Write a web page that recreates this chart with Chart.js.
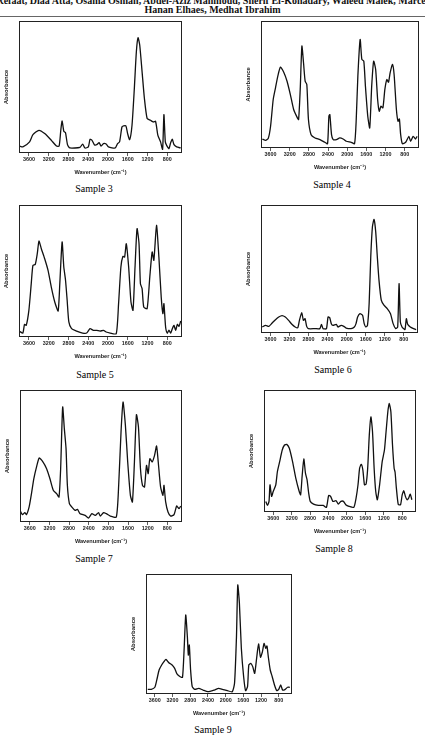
<!DOCTYPE html>
<html><head><meta charset="utf-8">
<script src="https://cdn.jsdelivr.net/npm/chart.js@4.4.1/dist/chart.umd.min.js"></script>
<style>
body{margin:0;width:425px;height:735px;overflow:hidden;background:#fff;position:relative;}
.hdr{position:absolute;left:-150px;width:725px;text-align:center;font:bold 10px "Liberation Serif","Times New Roman",serif;white-space:nowrap;color:#111;line-height:11px;}
.rule{position:absolute;left:0;width:425px;top:16px;height:0;border-top:1px solid #666;}
canvas{position:absolute;}
.lbl{position:absolute;font:10px "Liberation Serif","Times New Roman",serif;color:#000;transform:translate(-50%,-50%);white-space:nowrap;}
</style></head><body>
<div class="hdr" style="top:-5px">Refaat, Diaa Atta, Osama Osman, Abdel-Aziz Mahmoud, Sherif El-Kohadary, Waleed Malek, Marcel</div>
<div class="hdr" style="top:4px">Hanan Elhaes, Medhat Ibrahim</div>
<div class="rule"></div>
<script>
const xTicks = [3600, 3200, 2800, 2400, 2000, 1600, 1200, 800];
const sampleNames = ['Sample 3','Sample 4','Sample 5','Sample 6','Sample 7','Sample 8','Sample 9'];

const s3_wn = [3790,3722,3586,3518,3396,3280,3144,3042,2988,2954,2927,2893,2859,2818,2770,2566,2512,2464,2396,2362,2322,2274,2226,2179,2138,2090,2036,1988,1852,1805,1764,1716,1682,1635,1601,1560,1512,1465,1424,1390,1356,1308,1261,1206,1138,1084,1036,988,934,893,866,838,811,764,730,696,662,608,526];
const s3_abs = [.053,.046,.084,.139,.172,.147,.096,.053,.053,.172,.243,.165,.154,.063,.038,.043,.068,.038,.046,.104,.096,.063,.063,.078,.053,.071,.068,.046,.038,.071,.084,.197,.205,.205,.147,.101,.210,.489,.767,.873,.818,.615,.413,.261,.248,.235,.240,.134,.084,.028,.291,.084,.058,.033,.078,.104,.063,.046,.038];

const s4_wn = [3772,3703,3648,3600,3545,3497,3449,3394,3325,3256,3187,3118,3050,3015,2981,2946,2912,2878,2843,2809,2754,2671,2568,2465,2410,2382,2362,2327,2293,2224,2155,2086,2018,1914,1846,1811,1777,1729,1694,1653,1619,1570,1529,1488,1447,1405,1364,1330,1295,1254,1213,1171,1137,1103,1054,1020,972,938,910,883,848,779,711,676,621,573,538];
const s4_abs = [.071,.060,.076,.171,.382,.474,.566,.637,.597,.526,.421,.303,.245,.224,.461,.803,.671,.526,.500,.224,.105,.079,.066,.045,.034,.250,.263,.105,.066,.066,.079,.071,.053,.045,.034,.224,.566,.855,.697,.684,.487,.250,.158,.487,.684,.618,.382,.289,.329,.316,.461,.539,.518,.592,.658,.579,.303,.210,.229,.105,.034,.045,.092,.053,.092,.071,.092];

const s5_wn = [3790,3722,3688,3654,3600,3552,3518,3471,3430,3396,3348,3280,3212,3144,3076,3008,2974,2927,2893,2859,2825,2791,2736,2634,2512,2430,2362,2294,2226,2158,2090,2036,1954,1832,1784,1737,1696,1662,1628,1580,1533,1492,1451,1410,1370,1342,1308,1274,1206,1152,1104,1070,1016,968,921,887,866,832,798,764,730,696,662,628,594,560,526];
const s5_abs = [.043,.030,.096,.088,.202,.404,.543,.550,.631,.727,.669,.593,.505,.374,.265,.197,.404,.720,.530,.434,.278,.114,.063,.045,.030,.030,.063,.050,.050,.045,.050,.038,.030,.025,.253,.530,.611,.606,.707,.530,.265,.202,.530,.821,.707,.404,.366,.227,.215,.455,.644,.581,.846,.606,.303,.177,.253,.076,.030,.051,.030,.063,.088,.051,.096,.081,.121];

const s6_wn = [3773,3704,3635,3565,3496,3427,3358,3289,3220,3151,3082,3026,2992,2944,2909,2874,2840,2805,2667,2563,2529,2494,2425,2391,2356,2322,2287,2218,2183,2114,2059,2011,1907,1838,1803,1769,1720,1665,1631,1596,1562,1527,1493,1458,1424,1389,1355,1320,1272,1216,1147,1078,1023,968,927,898,871,836,800,773,745,717,662,593,539];
const s6_abs = [.047,.060,.052,.078,.104,.125,.136,.125,.099,.068,.047,.042,.099,.159,.099,.112,.052,.034,.034,.034,.068,.034,.034,.125,.120,.073,.060,.068,.047,.060,.052,.039,.034,.047,.073,.125,.151,.138,.073,.047,.060,.230,.595,.830,.888,.791,.595,.413,.256,.217,.191,.151,.073,.034,.047,.386,.086,.047,.034,.026,.112,.068,.047,.034,.026];

const s7_wn = [3791,3750,3702,3668,3614,3566,3518,3463,3409,3340,3258,3190,3122,3054,3006,2972,2931,2897,2862,2835,2794,2746,2678,2630,2576,2473,2405,2336,2268,2200,2166,2097,2043,1961,1838,1790,1742,1701,1653,1606,1551,1510,1469,1428,1387,1346,1305,1264,1223,1189,1155,1107,1059,1018,984,936,888,867,833,785,730,662,608,560,526];
const s7_abs = [.081,.056,.071,.056,.114,.215,.328,.417,.485,.460,.404,.328,.240,.215,.189,.404,.871,.707,.556,.278,.139,.114,.088,.096,.063,.050,.030,.063,.050,.071,.045,.071,.063,.045,.038,.278,.682,.909,.732,.455,.202,.152,.455,.813,.720,.404,.278,.265,.429,.366,.480,.455,.505,.576,.455,.265,.202,.278,.152,.076,.045,.056,.121,.101,.121];

const s8_wn = [3761,3726,3691,3670,3635,3600,3544,3509,3460,3404,3355,3306,3250,3180,3110,3040,3005,2970,2935,2900,2865,2830,2795,2725,2620,2515,2445,2396,2354,2305,2235,2186,2130,2074,2025,1955,1850,1801,1759,1724,1689,1654,1619,1584,1549,1514,1479,1444,1409,1374,1339,1290,1234,1185,1150,1108,1080,1045,1010,975,954,926,884,835,800,765,730,695,660,625,590];
const s8_abs = [.087,.054,.087,.223,.128,.168,.223,.332,.413,.508,.549,.554,.522,.413,.277,.174,.141,.304,.435,.318,.264,.155,.087,.065,.054,.054,.038,.136,.128,.087,.092,.065,.087,.087,.060,.046,.038,.114,.223,.359,.391,.345,.223,.228,.359,.630,.780,.658,.359,.168,.100,.223,.413,.508,.658,.834,.889,.820,.549,.359,.326,.196,.060,.060,.141,.174,.128,.100,.114,.147,.100];

const s9_wn = [3760,3680,3600,3556,3504,3446,3394,3350,3284,3210,3152,3100,3027,2975,2939,2902,2865,2843,2821,2792,2755,2696,2608,2512,2402,2255,2159,2071,1961,1851,1799,1755,1726,1689,1645,1593,1549,1505,1476,1432,1388,1344,1300,1256,1212,1168,1132,1094,1066,1036,992,947,896,845,800,756,712,653,601,550];
const s9_abs = [.039,.039,.056,.117,.200,.242,.269,.289,.261,.242,.214,.167,.144,.139,.367,.658,.478,.325,.408,.200,.061,.039,.047,.033,.019,.033,.047,.039,.028,.019,.089,.478,.908,.756,.381,.144,.028,.061,.242,.256,.228,.172,.297,.417,.306,.353,.422,.381,.400,.311,.200,.144,.075,.028,.039,.075,.033,.039,.056,.056];

const FONT = '"Liberation Sans", Arial, sans-serif';
const boxPlugin = {
  id: 'box',
  afterDraw(chart) {
    const {ctx, chartArea: a} = chart;
    ctx.save();
    ctx.strokeStyle = '#222';
    ctx.lineWidth = 1;
    ctx.strokeRect(a.left + 0.5, a.top + 0.5, a.right - a.left - 1, a.bottom - a.top - 1);
    ctx.restore();
  }
};

function panel(rect, wn, ab, name, lx, ly) {
  const WY = 16, HX = 23, PT = 1, PR = 1;
  const c = document.createElement('canvas');
  const w = rect.R - rect.L + WY + PR, h = rect.B - rect.T + PT + HX;
  c.width = w; c.height = h;
  c.style.width = w + 'px'; c.style.height = h + 'px';
  c.style.left = (rect.L - WY) + 'px'; c.style.top = (rect.T - PT) + 'px';
  document.body.appendChild(c);
  new Chart(c, {
    type: 'line',
    data: {datasets: [{
      data: wn.map((x, i) => ({x: x, y: ab[i]})),
      borderColor: '#111', borderWidth: 1.3, pointRadius: 0, tension: 0.2, fill: false
    }]},
    options: {
      responsive: false, animation: false, events: [],
      layout: {padding: {top: PT, right: PR, left: 0, bottom: 0}},
      plugins: {legend: {display: false}, tooltip: {enabled: false}},
      scales: {
        x: {
          type: 'linear', reverse: true, min: 500, max: 3800,
          afterBuildTicks: s => { s.ticks = xTicks.map(v => ({value: v})); },
          afterFit: s => { s.height = HX; },
          grid: {display: true, drawOnChartArea: false, drawTicks: true, tickLength: 3, color: '#333', lineWidth: 0.8},
          border: {display: false},
          ticks: {font: {family: FONT, size: 5.4, weight: 'bold'}, color: '#222', padding: 0.5, maxRotation: 0, autoSkip: false, callback: v => String(v)},
          title: {display: true, text: 'Wavenumber (cm⁻¹)', font: {family: FONT, size: 5.6, weight: 'bold'}, color: '#222', padding: 0}
        },
        y: {
          min: 0, max: 1,
          afterFit: s => { s.width = WY; },
          ticks: {display: false}, grid: {display: false}, border: {display: false},
          title: {display: true, text: 'Absorbance', font: {family: FONT, size: 6, weight: 'bold'}, color: '#222', padding: 0}
        }
      }
    },
    plugins: [boxPlugin]
  });
  const d = document.createElement('div');
  d.className = 'lbl'; d.textContent = name;
  d.style.left = lx + 'px'; d.style.top = ly + 'px';
  document.body.appendChild(d);
}

panel({L: 19, T: 21, R: 182, B: 153}, s3_wn, s3_abs, sampleNames[0], 94, 188);
panel({L: 261, T: 21, R: 419, B: 148}, s4_wn, s4_abs, sampleNames[1], 332, 184);
panel({L: 19, T: 205, R: 182, B: 337}, s5_wn, s5_abs, sampleNames[2], 95, 374);
panel({L: 261, T: 205, R: 418, B: 333}, s6_wn, s6_abs, sampleNames[3], 333, 369);
panel({L: 20, T: 390, R: 182, B: 522}, s7_wn, s7_abs, sampleNames[4], 94, 558);
panel({L: 264, T: 390, R: 416, B: 512}, s8_wn, s8_abs, sampleNames[5], 334, 548);
panel({L: 146, T: 574, R: 292, B: 694}, s9_wn, s9_abs, sampleNames[6], 213, 729);
</script>
</body></html>
